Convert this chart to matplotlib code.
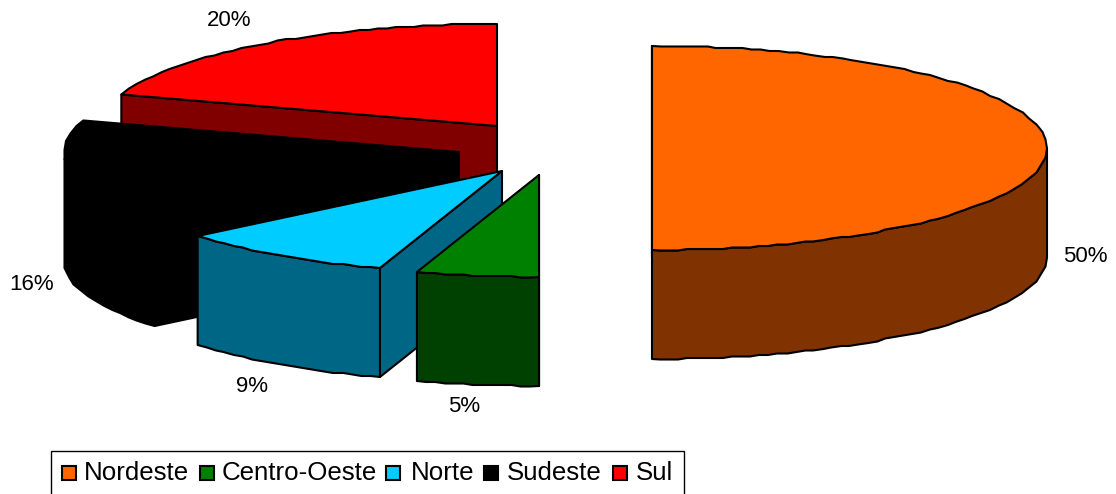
import numpy as np
import matplotlib
matplotlib.use("Agg")
import matplotlib.pyplot as plt
from matplotlib.patches import Polygon, Rectangle

categories = ["Nordeste", "Centro-Oeste", "Norte", "Sudeste", "Sul"]
values = [50, 5, 9, 16, 20]
top_colors = ["#FF6600", "#008000", "#00CCFF", "#000000", "#FF0000"]
side_colors = ["#803300", "#004000", "#006685", "#000000", "#800000"]
edge_color = "#000000"

# layout of the projected pie, in pixels
W, H = 1116, 494
A, B, DEPTH = 395, 102, 109
SNAP = 1.5       # the original rims are slightly stepped
SEG_PX = 9.0     # rim segment length
apex = {"Nordeste": (652, 148), "Centro-Oeste": (539, 175), "Norte": (502, 171),
        "Sudeste": (459, 152), "Sul": (497, 126)}
label_pos = {"Nordeste": (1085, 256), "Centro-Oeste": (464, 406), "Norte": (252, 386),
             "Sudeste": (32, 284), "Sul": (229, 20)}
swatch_x = [62, 200, 386, 484, 613]
text_x = [84, 222, 411, 507, 636]

plt.rcParams["font.family"] = ["Liberation Sans", "DejaVu Sans"]
fig = plt.figure(figsize=(W / 100, H / 100), dpi=100)
ax = fig.add_axes([0, 0, 1, 1])
ax.set_xlim(0, W)
ax.set_ylim(H, 0)
ax.axis("off")

fractions = np.array(values) / sum(values)
ends = np.cumsum(fractions) * 2 * np.pi
starts = ends - fractions * 2 * np.pi


def rim(c, t0, t1):
    """Rim of one slice, sampled evenly along its length and snapped to a fine grid."""
    t = np.linspace(t0, t1, 800)
    pts = np.column_stack([c[0] + A * np.sin(t), c[1] - B * np.cos(t)])
    s = np.r_[0, np.cumsum(np.hypot(*np.diff(pts, axis=0).T))]
    n = max(2, int(s[-1] / SEG_PX))
    idx = np.searchsorted(s, np.linspace(0, s[-1], n + 1)).clip(0, len(t) - 1)
    out = pts[idx]
    out[1:-1] = np.round(out[1:-1] / SNAP) * SNAP
    return out, t[idx]


def poly(pts, fc, z):
    ax.add_patch(Polygon(pts, closed=True, facecolor=fc, edgecolor=edge_color, lw=1.5,
                         joinstyle="round", zorder=z))


# back-to-front painting order
draw_order = ["Sul", "Sudeste", "Norte", "Centro-Oeste", "Nordeste"]
down = np.array([0, DEPTH])
for z, name in enumerate(draw_order):
    i = categories.index(name)
    cc = np.array(apex[name], dtype=float)
    r, t = rim(cc, starts[i], ends[i])
    zz = 10 + z * 5
    # the cut wall that faces the viewer
    p = r[0]
    poly([cc, p, p + down, cc + down], side_colors[i], zz)
    # outer wall: only the part of the rim facing the viewer
    vis = np.cos(t) <= 0.001
    if vis.any():
        rv = r[vis]
        poly(np.vstack([rv, (rv + down)[::-1]]), side_colors[i], zz + 1)
    # top face
    poly(np.vstack([cc, r]), top_colors[i], zz + 2)

    lx, ly = label_pos[name]
    ax.text(lx, ly, f"{values[i]}%", fontsize=16, ha="center", va="center",
            color="#000000", zorder=60)

# legend
ax.add_patch(Rectangle((50.5, 450.5), 633, 50, facecolor="white", edgecolor="#000000",
                       lw=1, zorder=70))
for name, sx, tx in zip(categories, swatch_x, text_x):
    i = categories.index(name)
    ax.add_patch(Rectangle((sx, 466), 14, 14, facecolor=top_colors[i], edgecolor="#000000",
                           lw=1.5, zorder=71))
    ax.text(tx, 472.5, name, fontsize=18.6, ha="left", va="center", color="#000000", zorder=71)

fig.savefig("out.png", dpi=100, facecolor="white")
